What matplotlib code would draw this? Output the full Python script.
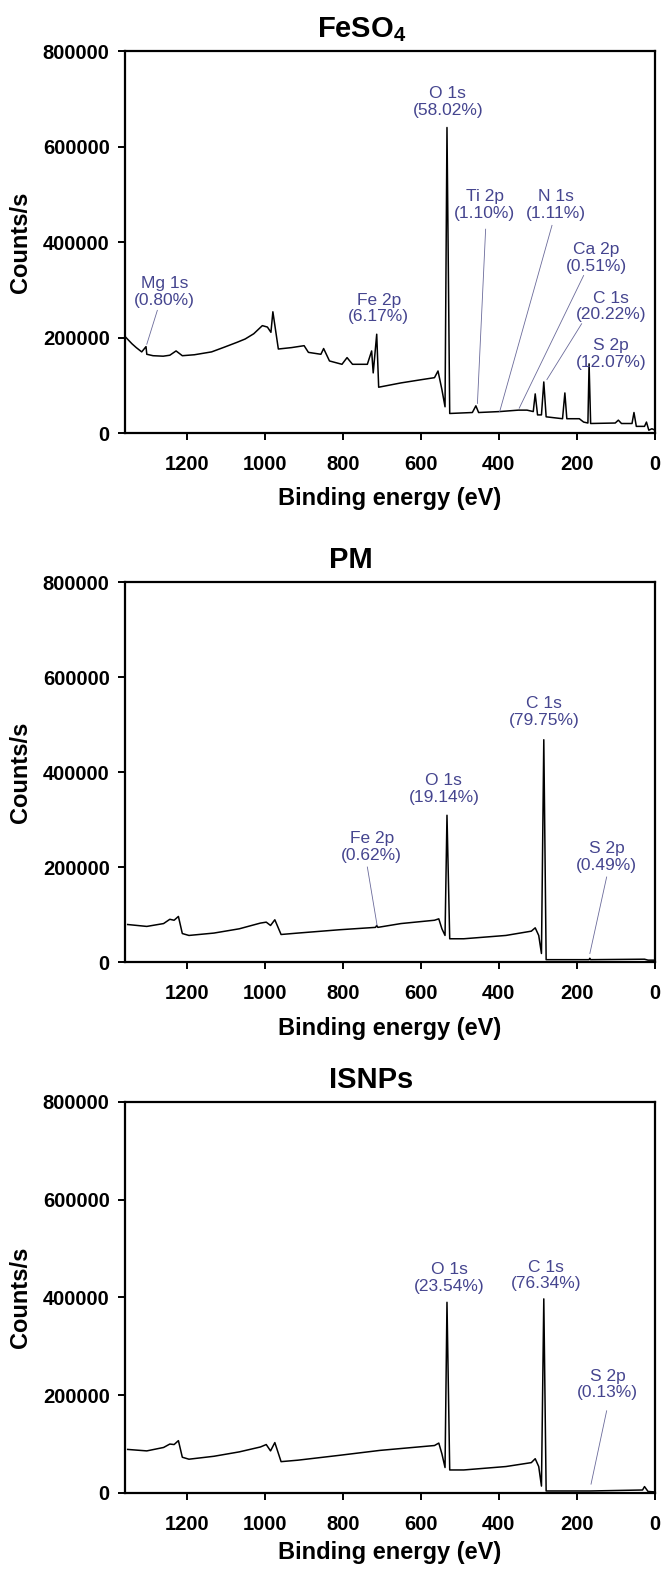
import matplotlib
matplotlib.use('Agg')
import matplotlib.pyplot as plt

plt.rcParams['font.family'] = ['Liberation Sans', 'DejaVu Sans']
plt.rcParams['mathtext.fontset'] = 'custom'
plt.rcParams['mathtext.rm'] = 'Liberation Sans'
plt.rcParams['mathtext.bf'] = 'Liberation Sans:bold'

# spectra: binding energy (eV) and counts/s
feso4_ev = [1356, 1340, 1329, 1315, 1304, 1302, 1286, 1260, 1243, 1227, 1211, 1180, 1136, 1103,
            1071, 1050, 1028, 1006, 993, 984, 979, 974, 965, 931, 899, 888, 856, 849, 834, 802,
            789, 775, 737, 726, 722, 713, 708, 651, 597, 565, 556, 546, 538, 533, 526, 468, 459,
            452, 398, 350, 328, 312, 307, 301, 291, 285, 279, 237, 231, 226, 194, 183, 172, 169,
            165, 102, 94, 86, 59, 54, 48, 27, 22, 16, 8, 0]
feso4_cps = [200700, 187000, 179000, 170000, 181000, 165000, 162000, 161000, 163000, 172000,
             162000, 164000, 170000, 180000, 190000, 197000, 208000, 225000, 222000, 211000,
             254000, 226000, 176000, 179000, 183000, 169000, 165000, 177000, 151000, 144000,
             158000, 144000, 144000, 172000, 126000, 207000, 96000, 105000, 112000, 116000,
             130000, 91000, 55000, 640000, 41000, 43000, 57000, 43000, 45000, 48000, 48000,
             45000, 82000, 38000, 38000, 107000, 34000, 30000, 84000, 30000, 30000, 23000,
             21000, 145000, 20000, 21000, 27000, 20000, 20000, 43000, 14000, 14000, 23000,
             6000, 9000, 6000]

pm_ev = [1351, 1302, 1259, 1243, 1232, 1221, 1211, 1194, 1130, 1065, 1011, 996, 985, 974, 958,
         915, 808, 716, 713, 710, 651, 565, 554, 546, 538, 533, 526, 490, 382, 317, 307, 298,
         291, 285, 279, 169, 167, 165, 27, 18, 0]
pm_cps = [79000, 75000, 81000, 90000, 88000, 96000, 60000, 56000, 61000, 70000, 82000, 84000,
          77000, 89000, 58000, 61000, 68000, 73000, 77000, 73000, 81000, 88000, 91000, 70000,
          56000, 309000, 49000, 49000, 56000, 65000, 72000, 56000, 18000, 468000, 5000, 5000,
          8000, 5000, 6000, 4000, 4000]

isnp_ev = [1351, 1302, 1259, 1243, 1232, 1221, 1211, 1194, 1130, 1065, 1011, 996, 985, 974, 958,
           915, 808, 705, 565, 554, 546, 538, 533, 526, 490, 382, 317, 307, 298, 291, 285, 279,
           165, 32, 27, 18, 0]
isnp_cps = [89000, 86000, 93000, 100000, 99000, 107000, 73000, 69000, 75000, 84000, 94000, 99000,
            86000, 103000, 64000, 67000, 77000, 87000, 97000, 102000, 80000, 52000, 390000,
            47000, 47000, 54000, 62000, 70000, 54000, 14000, 397000, 4000, 4000, 6000, 13000,
            3000, 2000]

# peak labels and atomic percentages
feso4_names = ['O 1s', 'Ti 2p', 'N 1s', 'Ca 2p', 'C 1s', 'S 2p', 'Fe 2p', 'Mg 1s']
feso4_pct = ['58.02', '1.10', '1.11', '0.51', '20.22', '12.07', '6.17', '0.80']
pm_names = ['C 1s', 'O 1s', 'Fe 2p', 'S 2p']
pm_pct = ['79.75', '19.14', '0.62', '0.49']
isnp_names = ['O 1s', 'C 1s', 'S 2p']
isnp_pct = ['23.54', '76.34', '0.13']

titles = [r'$\mathbf{FeSO_4}$', 'PM', 'ISNPs']

# label placement: text centre (eV, cps) and optional leader line (eV1, cps1, eV2, cps2)
feso4_pos = [(531, 694000, None),
             (436, 477000, (434, 427000, 455, 62000)),
             (253, 477000, (264, 435000, 398, 45000)),
             (151, 367000, (183, 330000, 348, 52000)),
             (113, 265000, (188, 229000, 277, 112000)),
             (113, 166000, None),
             (708, 261000, None),
             (1256, 296000, (1275, 257000, 1302, 186000))]
pm_pos = [(285, 526000, None),
          (541, 365000, None),
          (726, 242000, (737, 200000, 712, 77000)),
          (124, 221000, (124, 179000, 167, 18000))]
isnp_pos = [(527, 440000, None),
            (280, 445000, None),
            (122, 222000, (124, 168000, 164, 18000))]

# axes rect, title x (axes fraction), xlabel pad
panels = [
    (feso4_ev, feso4_cps, feso4_names, feso4_pct, feso4_pos, [0.189, 0.7247, 0.802, 0.2428], 0.447, 9),
    (pm_ev, pm_cps, pm_names, pm_pct, pm_pos, [0.189, 0.3884, 0.802, 0.2416], 0.426, 10),
    (isnp_ev, isnp_cps, isnp_names, isnp_pct, isnp_pos, [0.189, 0.0509, 0.802, 0.2486], 0.464, 5),
]

lab_color = '#45458f'

fig = plt.figure(figsize=(6.61, 15.73), dpi=100)

for i, (ev, cps, names, pct, pos, rect, tx, lp) in enumerate(panels):
    ax = fig.add_axes(rect)
    ax.plot(ev, cps, color='black', lw=1.1)
    ax.set_xlim(1358, 0)
    ax.set_ylim(0, 800000)
    ax.set_xticks([1200, 1000, 800, 600, 400, 200, 0])
    ax.set_yticks([0, 200000, 400000, 600000, 800000])
    for s in ax.spines.values():
        s.set_linewidth(1.6)
    ax.tick_params(direction='out', length=5, width=1.4, labelsize=14.5, pad=6)
    ax.tick_params(axis='x', pad=11)
    for t in ax.get_xticklabels() + ax.get_yticklabels():
        t.set_fontweight('bold')
    ax.set_xlabel('Binding energy (eV)', fontsize=17, fontweight='bold', labelpad=lp)
    ax.set_ylabel('Counts/s', fontsize=17, fontweight='bold', labelpad=8)
    ax.set_title(titles[i], fontsize=21, fontweight='bold', x=tx, pad=10)

    for name, p, (x, y, line) in zip(names, pct, pos):
        ax.text(x, y, name + '\n(' + p + '%)', ha='center', va='center',
                fontsize=12.5, color=lab_color, linespacing=1.15)
        if line is not None:
            ax.plot([line[0], line[2]], [line[1], line[3]], color='#6a6a9a', lw=0.6)

fig.savefig('out.png', dpi=100)
